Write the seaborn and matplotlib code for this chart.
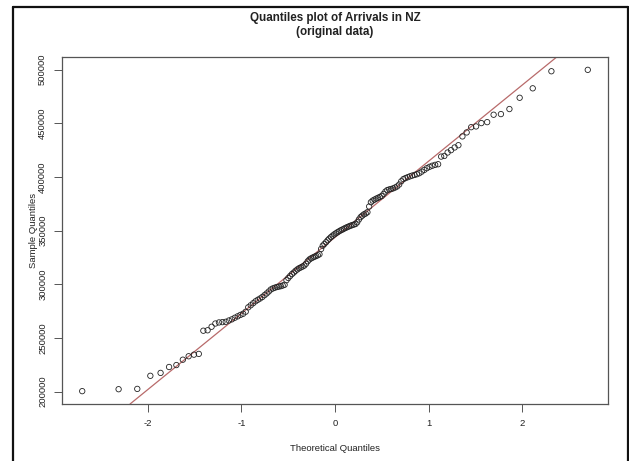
import numpy as np
import pandas as pd
import matplotlib
matplotlib.use("Agg")
import matplotlib.pyplot as plt
from matplotlib.lines import Line2D
import seaborn as sns
from statistics import NormalDist

# ---- data (sorted monthly arrivals) ----
arrivals = [
    200500, 202300, 202600, 214800, 217500, 223000, 224800, 229800, 233000, 234500,
    235200, 256800, 257200, 260500, 263500, 264500, 264800, 265100, 266300, 267400,
    268900, 270200, 271500, 272600, 274500, 278600, 280500, 282400, 284200, 285600,
    286800, 288200, 289900, 291500, 293300, 295200, 296200, 296900, 297500, 297900,
    298300, 298900, 299600, 303800, 305900, 307800, 309600, 311000, 312600, 313900,
    315000, 315800, 316600, 317500, 319200, 321500, 323200, 324200, 325000, 325700,
    326400, 327100, 328000, 332900, 336000, 337600, 339200, 341000, 342600, 344000,
    345300, 346500, 347500, 348500, 349400, 350300, 351000, 351800, 352600, 353300,
    354000, 354600, 355200, 355700, 356200, 357800, 360400, 362600, 364000, 365200,
    366000, 367200, 372500, 376500, 378000, 378900, 379800, 380600, 381400, 382300,
    384200, 386400, 387800, 388400, 388800, 389400, 390200, 391200, 393000, 396000,
    398000, 399000, 399800, 400600, 401300, 401900, 402600, 403500, 405000, 406600,
    408200, 409500, 410500, 411300, 411900, 419000, 419600, 422800, 425000, 427500,
    429600, 437800, 441500, 446400, 447100, 450200, 451100, 458000, 458600, 463300,
    473800, 482600, 498500, 499800,
]
x_ticks = [-2, -1, 0, 1, 2]
y_ticks = [200000, 250000, 300000, 350000, 400000, 450000, 500000]
title_lines = ["Quantiles plot of Arrivals in NZ", "(original data)"]
x_label = "Theoretical Quantiles"
y_label = "Sample Quantiles"

# ---- theoretical quantiles (R's ppoints / qnorm) ----
y = np.sort(np.array(arrivals, dtype=float))
n = len(y)
nd = NormalDist()
a = 3 / 8 if n <= 10 else 0.5
theo = np.array([nd.inv_cdf((i - a) / (n + 1 - 2 * a)) for i in range(1, n + 1)])
df = pd.DataFrame({"theoretical": theo, "sample": y})

# qqline through the quartiles (R type-7 quantiles)
q1, q3 = np.quantile(y, [0.25, 0.75])
z1, z3 = nd.inv_cdf(0.25), nd.inv_cdf(0.75)
slope = (q3 - q1) / (z3 - z1)
intercept = q1 - slope * z1

# ---- style ----
sns.set_style("white")
plt.rcParams["font.family"] = ["Liberation Sans", "DejaVu Sans"]
text_col = "#222222"
axis_col = "#555555"

W, H = 629, 461
fig = plt.figure(figsize=(W / 100, H / 100), dpi=100)
fig.patch.set_facecolor("white")
L, R, T, B = 62, 608, 57, 404
ax = fig.add_axes([L / W, 1 - B / H, (R - L) / W, (B - T) / H])

sns.scatterplot(data=df, x="theoretical", y="sample", ax=ax,
                marker="o", s=15, facecolor="none", edgecolor="#222222",
                linewidth=0.6, legend=False, zorder=3)
ax.axline((0, intercept), slope=slope, color="#b86a6a", linewidth=0.9, zorder=2)

# R default 4% axis extension
xr = theo.max() - theo.min()
yr = y.max() - y.min()
ax.set_xlim(theo.min() - 0.04 * xr, theo.max() + 0.04 * xr)
ax.set_ylim(y.min() - 0.04 * yr, y.max() + 0.04 * yr)

ax.set_xticks(x_ticks)
ax.set_xticklabels([str(v) for v in x_ticks])
ax.set_yticks(y_ticks)
ax.set_yticklabels([str(v) for v in y_ticks])
ax.tick_params(axis="both", which="major", direction="out", length=5.5,
               width=0.7, color=axis_col, labelsize=6.8, labelcolor=text_col,
               pad=5.2, left=True, bottom=True)
ax.tick_params(axis="y", labelrotation=90)
for t in ax.get_yticklabels():
    t.set_va("center")

for sp in ax.spines.values():
    sp.set_visible(True)
    sp.set_color(axis_col)
    sp.set_linewidth(0.9)

ax.set_xlabel(x_label, fontsize=6.8, color=text_col)
ax.set_ylabel(y_label, fontsize=6.8, color=text_col)
ax.xaxis.set_label_coords((335 - L) / (R - L), (B - 448) / (B - T))
ax.xaxis.label.set_va("center")
ax.yaxis.set_label_coords((33 - L) / (R - L), 0.5)
ax.yaxis.label.set_va("center")

cx = 335 / W
fig.text(cx, 1 - 18 / H, title_lines[0], ha="center", va="center",
         fontsize=8.4, fontweight="bold", color=text_col)
fig.text(cx, 1 - 31.5 / H, title_lines[1], ha="center", va="center",
         fontsize=8.4, fontweight="bold", color=text_col)

# screenshot frame around the plot
frame_kw = dict(color="#111111", linewidth=1.6, transform=fig.transFigure)
fig.add_artist(Line2D([13 / W, 13 / W], [0, 1 - 7 / H], **frame_kw))
fig.add_artist(Line2D([13 / W, 627.5 / W], [1 - 7 / H, 1 - 7 / H], **frame_kw))
fig.add_artist(Line2D([627.5 / W, 627.5 / W], [0, 1 - 7 / H], **frame_kw))

fig.savefig("out.png", dpi=100, facecolor="white")
